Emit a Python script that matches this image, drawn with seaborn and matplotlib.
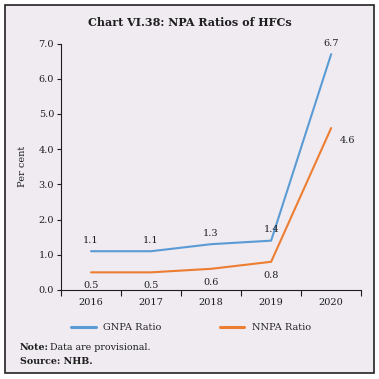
import pandas as pd                      # таблиці
import matplotlib.pyplot as plt          # графіки
import matplotlib.patches as mpatches    # рамка навколо рисунка
import seaborn as sns                    # стилізовані лінії

# --- Дані ---
years = ["2016", "2017", "2018", "2019", "2020"]
gnpa = [1.1, 1.1, 1.3, 1.4, 6.7]         # GNPA Ratio
nnpa = [0.5, 0.5, 0.6, 0.8, 4.6]         # NNPA Ratio
series_names = ["GNPA Ratio", "NNPA Ratio"]

df = pd.DataFrame({
    "year": years * 2,
    "value": gnpa + nnpa,
    "series": [series_names[0]] * len(years) + [series_names[1]] * len(years),
})

bg = "#EFEBF1"
ink = "#1E1E1E"
colors = {"GNPA Ratio": "#5B9BD5", "NNPA Ratio": "#ED7D31"}

sns.set_theme(style="ticks")
plt.rcParams["font.family"] = ["DejaVu Serif"]

fig = plt.figure(figsize=(3.79, 3.79), dpi=100, facecolor="white")
ax = fig.add_axes([0.161, 0.235, 0.792, 0.650])
ax.set_facecolor(bg)

# фон і рамка рисунка
fig.patches.append(mpatches.Rectangle((4.5 / 379, 6 / 379), 369 / 379, 368 / 379,
                                      transform=fig.transFigure, facecolor=bg,
                                      edgecolor="#222222", linewidth=1.2, zorder=-10))

sns.lineplot(data=df, x="year", y="value", hue="series", palette=colors,
             linewidth=1.5, ax=ax, legend=False, sort=False)

# підписи значень
for i, v in enumerate(gnpa):
    ax.annotate(f"{v:.1f}", xy=(i, v), xytext=(0, 4.5), textcoords="offset points",
                ha="center", va="bottom", fontsize=7, color=ink)
for i, v in enumerate(nnpa):
    if i == len(nnpa) - 1:
        ax.annotate(f"{v:.1f}", xy=(i, v), xytext=(6, -9), textcoords="offset points",
                    ha="left", va="center", fontsize=7, color=ink)
    else:
        ax.annotate(f"{v:.1f}", xy=(i, v), xytext=(0, -6.5), textcoords="offset points",
                    ha="center", va="top", fontsize=7, color=ink)

ax.set_xlim(-0.5, 4.5)
ax.set_ylim(0, 7)
ax.set_yticks([0, 1, 2, 3, 4, 5, 6, 7])
ax.set_yticklabels([f"{t:.1f}" for t in range(8)], fontsize=7)
ax.set_xticks(range(len(years)))
ax.set_xticklabels(years, fontsize=7)
ax.set_xticks([i - 0.5 for i in range(len(years) + 1)], minor=True)
ax.tick_params(axis="x", which="major", length=0, pad=6, colors=ink)
ax.tick_params(axis="x", which="minor", length=4, width=0.8, color=ink)
ax.tick_params(axis="y", length=3, width=0.8, pad=2, colors=ink)
ax.set_xlabel("")
ax.set_ylabel("Per cent", fontsize=7, labelpad=8, color=ink)
for s in ["top", "right"]:
    ax.spines[s].set_visible(False)
for s in ["left", "bottom"]:
    ax.spines[s].set_color(ink)
    ax.spines[s].set_linewidth(0.8)

fig.text(0.5, 1 - 23 / 379, "Chart VI.38: NPA Ratios of HFCs", ha="center", va="center",
         fontsize=8, fontweight="bold", color=ink)

handles = [plt.Line2D([], [], color=colors[n], linewidth=2.2) for n in series_names]
fig.legend(handles, series_names, loc="center", bbox_to_anchor=(0.505, 1 - 328 / 379),
           ncol=2, frameon=False, fontsize=7, handlelength=2.5, handletextpad=0.8,
           columnspacing=6)

fig.text(20 / 379, 1 - 348 / 379, "Note:", fontsize=6.8, fontweight="bold", va="center",
         color=ink)
fig.text(50 / 379, 1 - 348 / 379, "Data are provisional.", fontsize=6.8, va="center",
         color=ink)
fig.text(20 / 379, 1 - 362 / 379, "Source: NHB.", fontsize=6.8, fontweight="bold",
         va="center", color=ink)

fig.savefig("out.png", dpi=100, facecolor="white")
